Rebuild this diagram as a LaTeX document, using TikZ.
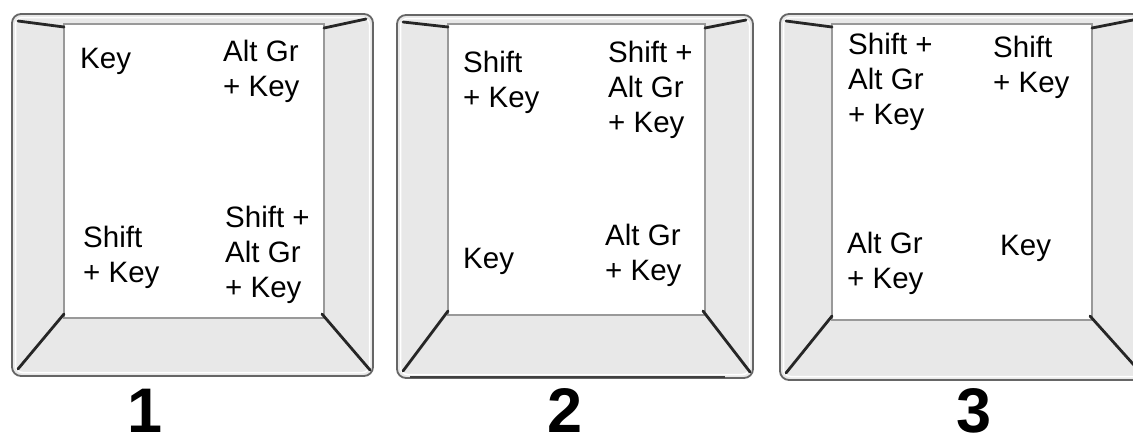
\documentclass[tikz,border=0pt]{standalone}
\usepackage{fontspec}
\setmainfont{Liberation Sans}
\tikzset{
  x=1pt, y=-1pt,
  keyouter/.style={draw=black!60, line width=1.8pt, fill=black!9, rounded corners=9pt},
  keyhigh/.style={draw=white, line width=1.5pt, rounded corners=7pt},
  keyface/.style={draw=black!40, line width=1.6pt, fill=white},
  diagline/.style={draw=black!85, line width=2.8pt, line cap=round},
  lbl/.style={anchor=base west, inner sep=0pt, align=left,
    font=\fontsize{29.5}{35}\selectfont},
  num/.style={anchor=base, inner sep=0pt, font=\fontsize{63}{63}\selectfont\bfseries}
}
% #1..#4 outer box, #5..#8 face
\newcommand\keycap[8]{%
  \path[keyouter] (#1,#2) rectangle (#3,#4);
  \path[keyhigh] (#1+3.5,#2+3.5) rectangle (#3-3.5,#4-3.5);
  \path[keyface] (#5,#6) rectangle (#7,#8);
  \path[diagline] (#1+6,#2+7) -- (#5,#6+3);
  \path[diagline] (#3-7,#2+5) -- (#7,#6+4);
  \path[diagline] (#5,#8-4) -- (#1+6,#4-7);
  \path[diagline] (#7-2,#8-4) -- (#3-3,#4-6);
}
\begin{document}
\begin{tikzpicture}
\useasboundingbox (0,0) rectangle (1133,437);
\clip (0,0) rectangle (1133,437);
\fill[white] (0,0) rectangle (1133,437);

% key 1
\keycap{12}{14}{373}{376}{64}{24}{324}{318}
\node[lbl] (k1a) at (80,68) {Key};
\node[lbl] (k1b) at (223,96) {Alt Gr\\+ Key};
\node[lbl] (k1c) at (83,282) {Shift\\+ Key};
\node[lbl] (k1d) at (225,297) {Shift +\\Alt Gr\\+ Key};
\node[num] (n1) at (145,432) {1};

% key 2
\keycap{397}{15}{753}{378}{448}{24}{705}{315}
\draw[draw=black!75, line width=1.5pt] (410,377) -- (725,377);
\node[lbl] (k2a) at (463,107) {Shift\\+ Key};
\node[lbl] (k2b) at (608,132) {Shift +\\Alt Gr\\+ Key};
\node[lbl] (k2c) at (463,268) {Key};
\node[lbl] (k2d) at (605,280) {Alt Gr\\+ Key};
\node[num] (n2) at (565,432) {2};

% key 3
\keycap{780}{14}{1145}{380}{832}{24}{1092}{320}
\node[lbl] (k3a) at (848,124) {Shift +\\Alt Gr\\+ Key};
\node[lbl] (k3b) at (993,92) {Shift\\+ Key};
\node[lbl] (k3c) at (847,288) {Alt Gr\\+ Key};
\node[lbl] (k3d) at (1000,255) {Key};
\node[num] (n3) at (974,432) {3};
\end{tikzpicture}
\end{document}
